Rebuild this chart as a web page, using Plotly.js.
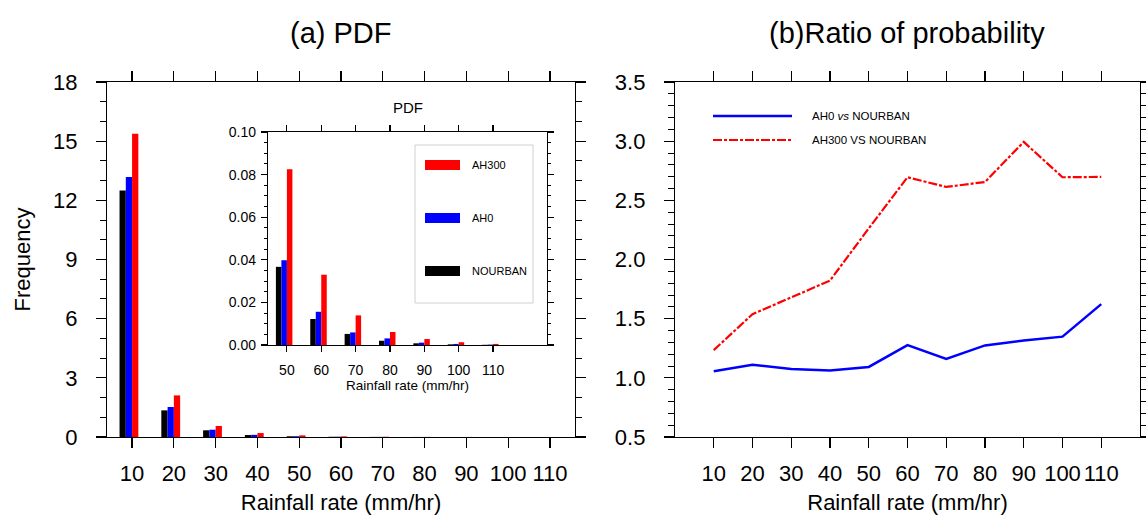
<!DOCTYPE html>
<html>
<head>
<meta charset="utf-8">
<script src="https://cdn.plot.ly/plotly-3.0.1.min.js"></script>
<style>html,body{margin:0;padding:0;background:#fff;}#chart{width:1146px;height:521px;}</style>
</head>
<body>
<div id="chart"></div>
<script>
// ---- data ----
const rainRate = [10, 20, 30, 40, 50, 60, 70, 80, 90, 100, 110];
const pdfNourban = [12.5, 1.35, 0.34, 0.10, 0.0367, 0.0122, 0.0052, 0.0020, 0.0008, 0.0003, 0.0001];
const pdfAh0     = [13.18, 1.52, 0.37, 0.11, 0.0398, 0.0156, 0.0059, 0.0031, 0.0011, 0.0005, 0.0002];
const pdfAh300   = [15.38, 2.11, 0.56, 0.20, 0.0825, 0.0330, 0.0139, 0.0061, 0.0028, 0.0013, 0.0005];
const ratioAh0   = [1.055, 1.11, 1.075, 1.063, 1.092, 1.277, 1.16, 1.274, 1.316, 1.348, 1.623];
const ratioAh300 = [1.234, 1.538, 1.68, 1.822, 2.263, 2.695, 2.613, 2.655, 2.994, 2.695, 2.698];
const barNames = ['NOURBAN', 'AH0', 'AH300'];
const barColors = ['#000000', '#0000ff', '#ff0000'];
const lineNames = ['AH0 <i>vs</i> NOURBAN', 'AH300 VS NOURBAN'];
const lineColors = ['#0000ff', '#ff0000'];
const insetTicks = rainRate.filter(v => v >= 50);

// ---- layout helpers (pixel -> paper) ----
const W = 1146, H = 521;
const px = v => v / W;
const py = v => 1 - v / H;
const FONT = 'Liberation Sans, Arial, Helvetica, sans-serif';
const RED_DASH = '9px,2px,3px,2px';

const pdfSeries = [pdfNourban, pdfAh0, pdfAh300];
const mainOffsets = [-3.0, -1.5, 0];
const insetOffsets = [-3.2, -1.6, 0];

const traces = [];
pdfSeries.forEach((ys, i) => {
  traces.push({type: 'bar', x: rainRate, y: ys, name: barNames[i], xaxis: 'x', yaxis: 'y',
    width: 1.5, offset: mainOffsets[i], marker: {color: barColors[i], line: {width: 0}},
    showlegend: false, hoverinfo: 'x+y+name'});
});
pdfSeries.forEach((ys, i) => {
  traces.push({type: 'bar', x: rainRate, y: ys, name: barNames[i], xaxis: 'x3', yaxis: 'y3',
    width: 1.6, offset: insetOffsets[i], marker: {color: barColors[i], line: {width: 0}},
    showlegend: false, hoverinfo: 'x+y+name'});
});
traces.push({type: 'scatter', mode: 'lines', x: rainRate, y: ratioAh0, name: 'AH0 vs NOURBAN',
  xaxis: 'x2', yaxis: 'y2', line: {color: lineColors[0], width: 2.5}, showlegend: false});
traces.push({type: 'scatter', mode: 'lines', x: rainRate, y: ratioAh300, name: 'AH300 VS NOURBAN',
  xaxis: 'x2', yaxis: 'y2', line: {color: lineColors[1], width: 2.2, dash: RED_DASH}, showlegend: false});

const axBase = {
  showline: true, linecolor: '#000', linewidth: 1.2, mirror: 'ticks',
  ticks: 'outside', tickcolor: '#000', tickwidth: 1.2, ticklen: 10,
  showgrid: false, zeroline: false, fixedrange: true,
  tickfont: {family: FONT, size: 22, color: '#000'}
};

const layout = {
  width: W, height: H,
  margin: {l: 0, r: 0, t: 0, b: 0},
  paper_bgcolor: '#fff', plot_bgcolor: '#fff',
  font: {family: FONT, color: '#000'},
  barmode: 'overlay',
  showlegend: false,
  xaxis: Object.assign({}, axBase, {
    domain: [px(107), px(575)], anchor: 'y', range: [4, 116],
    tickmode: 'array', tickvals: rainRate, ticklabelstandoff: 6,
    title: {text: 'Rainfall rate (mm/hr)', font: {family: FONT, size: 22, color: '#000'}, standoff: 10}
  }),
  yaxis: Object.assign({}, axBase, {
    domain: [py(437), py(82)], anchor: 'x', range: [0, 18], dtick: 3, tick0: 0,
    ticklabelstandoff: 14,
    minor: {dtick: 1, ticklen: 6, ticks: 'outside', tickcolor: '#000', tickwidth: 1, showgrid: false},
    title: {text: 'Frequency', font: {family: FONT, size: 22, color: '#000'}, standoff: 16}
  }),
  xaxis2: Object.assign({}, axBase, {
    domain: [px(675), px(1140)], anchor: 'y2', range: [0, 120],
    tickmode: 'array', tickvals: rainRate, ticklabelstandoff: 6,
    title: {text: 'Rainfall rate (mm/hr)', font: {family: FONT, size: 22, color: '#000'}, standoff: 10}
  }),
  yaxis2: Object.assign({}, axBase, {
    domain: [py(437), py(82)], anchor: 'x2', range: [0.5, 3.5], dtick: 0.5, tick0: 0.5,
    tickformat: '.1f', ticklabelstandoff: 14,
    minor: {dtick: 0.1, ticklen: 6, ticks: 'outside', tickcolor: '#000', tickwidth: 1, showgrid: false}
  }),
  xaxis3: Object.assign({}, axBase, {
    domain: [px(268), px(547)], anchor: 'y3', range: [44.5, 125.7],
    tickmode: 'array', tickvals: insetTicks, ticklen: 6, ticklabelstandoff: 6,
    tickfont: {family: FONT, size: 14, color: '#000'},
    title: {text: 'Rainfall rate (mm/hr)', font: {family: FONT, size: 13.5, color: '#000'}, standoff: 3}
  }),
  yaxis3: Object.assign({}, axBase, {
    domain: [py(345), py(132)], anchor: 'x3', range: [0, 0.1], dtick: 0.02, tick0: 0,
    tickformat: '.2f', ticklen: 6, ticklabelstandoff: 2,
    tickfont: {family: FONT, size: 14, color: '#000'},
    minor: {dtick: 0.005, ticklen: 3, ticks: 'outside', tickcolor: '#000', tickwidth: 1, showgrid: false}
  }),
  shapes: [],
  annotations: [
    {text: '(a) PDF', x: px(341), y: py(33), xref: 'paper', yref: 'paper', showarrow: false,
     xanchor: 'center', yanchor: 'middle', font: {family: FONT, size: 29, color: '#000'}},
    {text: '(b)Ratio of probability', x: px(907), y: py(33), xref: 'paper', yref: 'paper', showarrow: false,
     xanchor: 'center', yanchor: 'middle', font: {family: FONT, size: 29, color: '#000'}},
    {text: 'PDF', x: px(408), y: py(108), xref: 'paper', yref: 'paper', showarrow: false,
     xanchor: 'center', yanchor: 'middle', font: {family: FONT, size: 15, color: '#000'}}
  ]
};

// inset legend (built from the series names/colours, drawn top to bottom: AH300, AH0, NOURBAN)
layout.shapes.push({type: 'rect', xref: 'paper', yref: 'paper', x0: px(415), x1: px(533), y0: py(303), y1: py(145),
  line: {color: '#d0d0d0', width: 1}, fillcolor: 'rgba(0,0,0,0)'});
const legRowY = [271, 218, 165];
barNames.forEach((n, i) => {
  const yc = legRowY[i];
  layout.shapes.push({type: 'rect', xref: 'paper', yref: 'paper', x0: px(425), x1: px(460),
    y0: py(yc + 5), y1: py(yc - 5), line: {width: 0}, fillcolor: barColors[i]});
  layout.annotations.push({text: n, x: px(470), y: py(yc), xref: 'paper', yref: 'paper', showarrow: false,
    xanchor: 'left', yanchor: 'middle', font: {family: FONT, size: 11, color: '#000'}});
});

// ratio legend
const lineRowY = [116, 140];
lineNames.forEach((n, i) => {
  layout.shapes.push({type: 'line', xref: 'paper', yref: 'paper', x0: px(713), x1: px(792),
    y0: py(lineRowY[i]), y1: py(lineRowY[i]),
    line: {color: lineColors[i], width: i === 0 ? 2.5 : 2.2, dash: i === 0 ? 'solid' : RED_DASH}});
  layout.annotations.push({text: n, x: px(810), y: py(lineRowY[i]), xref: 'paper', yref: 'paper', showarrow: false,
    xanchor: 'left', yanchor: 'middle', font: {family: FONT, size: 11.5, color: '#000'}});
});

Plotly.newPlot('chart', traces, layout, {displayModeBar: false, staticPlot: true});
</script>
</body>
</html>
